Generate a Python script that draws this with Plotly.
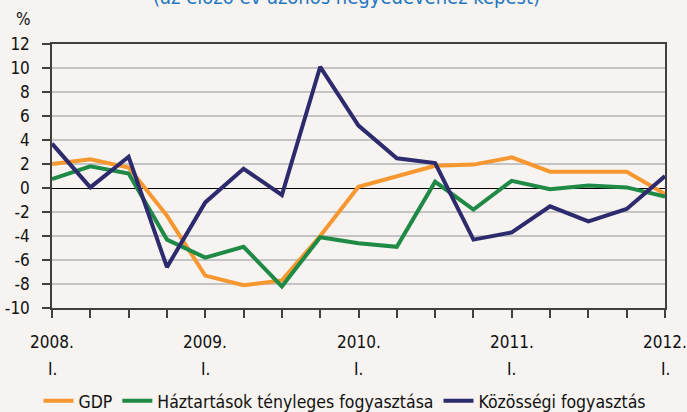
import plotly.graph_objects as go

quarters = ["2008. I.", "2008. II.", "2008. III.", "2008. IV.",
            "2009. I.", "2009. II.", "2009. III.", "2009. IV.",
            "2010. I.", "2010. II.", "2010. III.", "2010. IV.",
            "2011. I.", "2011. II.", "2011. III.", "2011. IV.",
            "2012. I."]
gdp = [2.0, 2.4, 1.7, -2.3, -7.3, -8.1, -7.7, -4.0, 0.1, 1.0, 1.85, 1.95, 2.55, 1.36, 1.36, 1.36, -0.5]
haztartas = [0.75, 1.8, 1.2, -4.3, -5.8, -4.9, -8.2, -4.1, -4.6, -4.9, 0.52, -1.8, 0.6, -0.1, 0.2, 0.05, -0.72]
kozossegi = [3.7, 0.05, 2.6, -6.6, -1.2, 1.6, -0.58, 10.1, 5.2, 2.47, 2.08, -4.3, -3.7, -1.53, -2.78, -1.75, 1.0]
year_labels = ["2008.", "2009.", "2010.", "2011.", "2012."]
quarter_label = "I."
y_ticks = list(range(-10, 13, 2))
y_ticktext = [str(v) for v in y_ticks]
names = ["GDP", "Háztartások tényleges fogyasztása", "Közösségi fogyasztás"]
colors = ["#F7972F", "#1E8A45", "#2E2A6E"]
title = "(az előző év azonos negyedévéhez képest)"

FONT = "DejaVu Sans Condensed, Liberation Sans Narrow, Arial Narrow, sans-serif"
x = list(range(len(quarters)))

fig = go.Figure()
for name, vals, col in zip(names, [gdp, haztartas, kozossegi], colors):
    fig.add_trace(go.Scatter(x=x, y=vals, mode="lines", name=name,
                             line=dict(color=col, width=4)))

year_pos = [i for i, q in enumerate(quarters) if q.endswith(" I.")]
ticktext = ["" for _ in x]

fig.update_layout(
    width=687, height=412,
    margin=dict(l=52, r=22, t=44, b=104, autoexpand=False),
    paper_bgcolor="#F6F3F0", plot_bgcolor="#F6F3F0",
    font=dict(family=FONT, size=17, color="#111111"),
    showlegend=True,
    legend=dict(orientation="h", x=0.478, xanchor="center", y=-0.352, yanchor="middle",
                font=dict(size=17.5), bgcolor="rgba(0,0,0,0)", itemwidth=30,
                tracegroupgap=0),
)
fig.update_xaxes(range=[0, 16], tickvals=x, ticktext=ticktext, ticks="outside",
                 ticklen=8, tickcolor="#404040", tickwidth=1.5, automargin=False,
                 showline=True, linecolor="#404040", linewidth=1.5, mirror=True,
                 showgrid=False, zeroline=False)
fig.update_yaxes(range=[-10, 12], tickvals=y_ticks, ticktext=y_ticktext,
                 ticks="outside", ticklen=8,
                 tickcolor="#404040", tickwidth=1.5, automargin=False,
                 ticklabelstandoff=9,
                 showline=True, linecolor="#404040", linewidth=1.5, mirror=True,
                 showgrid=True, gridcolor="#C4C4C4", gridwidth=2,
                 zeroline=True, zerolinecolor="#000000", zerolinewidth=1.2,
                 tickfont=dict(size=17))

for k, p in enumerate(year_pos):
    fig.add_annotation(x=p, y=-10, xref="x", yref="y", text=year_labels[k],
                       showarrow=False, yshift=-34, font=dict(size=17))
    fig.add_annotation(x=p, y=-10, xref="x", yref="y", text=quarter_label,
                       showarrow=False, yshift=-61, font=dict(size=17))

fig.add_annotation(x=(23 - 52) / 613, y=1 + (44 - 19) / 264, xref="paper", yref="paper",
                   xanchor="center", yanchor="middle",
                   text="%", showarrow=False, font=dict(size=17))
fig.add_annotation(x=0.48, xref="paper", yref="paper", y=1 + (44 + 3) / 264,
                   yanchor="middle", text=title, showarrow=False,
                   font=dict(size=20, color="#1F77C0"))

fig.write_html("out.html", config={"displayModeBar": False},
               post_script="document.body.style.margin='0';document.body.style.background='#F6F3F0';")
